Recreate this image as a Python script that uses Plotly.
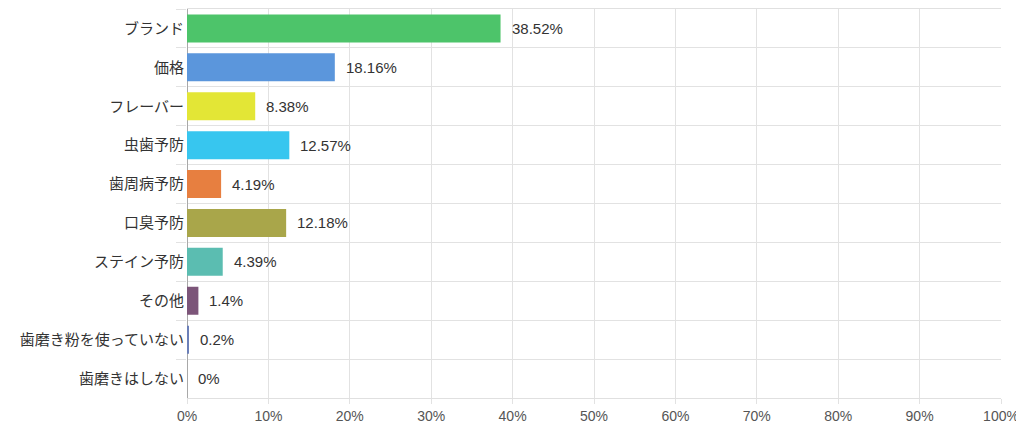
import plotly.graph_objects as go

categories = ["ブランド", "価格", "フレーバー", "虫歯予防", "歯周病予防", "口臭予防",
              "ステイン予防", "その他", "歯磨き粉を使っていない", "歯磨きはしない"]
values = [38.52, 18.16, 8.38, 12.57, 4.19, 12.18, 4.39, 1.4, 0.2, 0]
colors = ["#4dc46a", "#5b96dc", "#e3e636", "#37c6ef", "#e77f40", "#a9a64a",
          "#5bbdb1", "#7c5579", "#6b7fb8", "#bdbdbd"]
x_ticks = list(range(0, 101, 10))
x_ticktext = [f"{t}%" for t in x_ticks]

font_family = "Liberation Sans, Arial, Noto Sans CJK JP, sans-serif"

fig = go.Figure()
fig.add_trace(go.Bar(
    x=values, y=categories, orientation="h",
    marker=dict(color=colors, line=dict(width=0)),
    width=0.72,
    hoverinfo="skip",
))

for c, v in zip(categories, values):
    fig.add_annotation(
        x=v, y=c, text=f"{v:g}%", showarrow=False,
        xanchor="left", xshift=9,
        font=dict(family=font_family, size=15, color="#333333"),
    )

# the page body has an 8px margin, so the figure is sized to fit inside it
fig.update_layout(
    width=1016, height=425,
    margin=dict(l=179, r=23, t=1, b=35),
    paper_bgcolor="white", plot_bgcolor="white",
    showlegend=False,
    font=dict(family=font_family, size=14, color="#555555"),
    xaxis=dict(
        range=[0, 100], tickvals=x_ticks, ticktext=x_ticktext,
        showgrid=True, gridcolor="#e2e2e2", gridwidth=1,
        zeroline=True, zerolinecolor="#a8a8a8", zerolinewidth=1,
        showline=True, linecolor="#e0e0e0", linewidth=1, mirror=True,
        ticks="outside", ticklen=5, tickcolor="#e2e2e2",
        tickfont=dict(family=font_family, size=14, color="#555555"),
        fixedrange=True,
    ),
    yaxis=dict(
        type="category", categoryorder="array", categoryarray=categories,
        autorange="reversed",
        tickson="boundaries", showgrid=True, gridcolor="#e2e2e2", gridwidth=1,
        ticks="outside", ticklen=10, tickcolor="#e2e2e2",
        ticklabelstandoff=2,
        tickfont=dict(family="Noto Sans CJK JP, sans-serif", size=15, color="#333333"),
        fixedrange=True,
    ),
)

fig.write_html("out.html")
